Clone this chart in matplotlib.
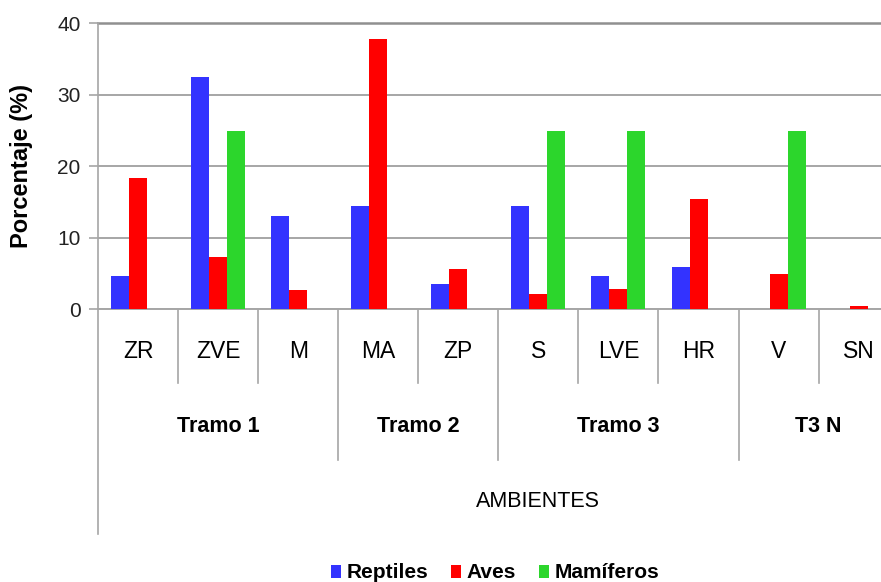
import matplotlib
matplotlib.use("Agg")
import matplotlib.pyplot as plt
import numpy as np
from matplotlib.patches import Patch

plt.rcParams['font.family'] = ['Liberation Sans', 'DejaVu Sans']

categories = ['ZR', 'ZVE', 'M', 'MA', 'ZP', 'S', 'LVE', 'HR', 'V', 'SN']
groups = ['Tramo 1', 'Tramo 2', 'Tramo 3', 'T3 N']
group_sizes = [3, 2, 3, 2]
series_names = ['Reptiles', 'Aves', 'Mamíferos']
reptiles = [4.7, 32.5, 13.1, 14.4, 3.5, 14.4, 4.7, 5.9, 0, 0]
aves = [18.4, 7.3, 2.7, 37.8, 5.7, 2.2, 2.9, 15.4, 4.9, 0.5]
mamiferos = [0, 25, 0, 0, 0, 25, 25, 0, 25, 0]
yticks = [0, 10, 20, 30, 40]

colors = ['#3333FF', '#FF0000', '#2CD62C']
grid_c = '#A6A6A6'

W, H = 881, 582
fig = plt.figure(figsize=(W / 100, H / 100), dpi=100)
left_px, right_px, top_px, zero_px = 98, 898.7, 23.3, 309.3
ax = fig.add_axes([left_px / W, (H - zero_px) / H,
                   (right_px - left_px) / W, (zero_px - top_px) / H])
ax_h = zero_px - top_px

x = np.arange(len(categories))
bw = 0.225
for i, (vals, name) in enumerate(zip([reptiles, aves, mamiferos], series_names)):
    ax.bar(x + (i - 1) * bw, vals, width=bw, color=colors[i], label=name,
           zorder=3, linewidth=0)

ax.set_xlim(-0.5, len(categories) - 0.5)
ax.set_ylim(0, 40)
ax.set_yticks(yticks)
ax.set_yticklabels([str(v) for v in yticks], fontsize=15, color='#222222')
ax.tick_params(axis='y', length=6.5, width=1.2, color=grid_c, pad=6)
ax.set_xticks([])
ax.set_axisbelow(True)
ax.yaxis.grid(True, color=grid_c, linewidth=1.4)
for s in ['top', 'right']:
    ax.spines[s].set_visible(False)
ax.spines['left'].set_color(grid_c)
ax.spines['left'].set_linewidth(1.2)
ax.spines['bottom'].set_color(grid_c)
ax.spines['bottom'].set_linewidth(1.4)
# top gridline slightly darker
ax.axhline(40, color='#909090', linewidth=1.8, zorder=1, clip_on=False)

ax.set_ylabel('Porcentaje (%)', fontsize=17, fontweight='bold', va='center')
ax.yaxis.set_label_coords((22 - left_px) / (right_px - left_px), 0.5)

trans = ax.get_xaxis_transform()
def fy(px):
    return -(px - zero_px) / ax_h

# category labels and short separators
for i, c in enumerate(categories):
    ax.text(i, fy(352), c, transform=trans, ha='center', va='center',
            fontsize=16.5, color='black')
bounds = np.cumsum([0] + group_sizes) - 0.5
for b in np.arange(0.5, len(categories) - 0.5, 1.0):
    if b not in bounds:
        ax.plot([b, b], [0, fy(383)], transform=trans, color=grid_c,
                linewidth=1.2, clip_on=False)
for b in bounds[1:-1]:
    ax.plot([b, b], [0, fy(460)], transform=trans, color=grid_c,
            linewidth=1.2, clip_on=False)
# extended left axis line
ax.plot([-0.5, -0.5], [0, fy(534)], transform=trans, color=grid_c,
        linewidth=1.2, clip_on=False)

for g, lo, hi in zip(groups, bounds[:-1], bounds[1:]):
    ax.text((lo + hi) / 2, fy(426.5), g, transform=trans, ha='center',
            va='center', fontsize=15.5, fontweight='bold')

ax.text((537.5 - left_px) / (right_px - left_px), fy(501.7), 'AMBIENTES',
        transform=ax.transAxes, ha='center', va='center', fontsize=15.5)

handles = [Patch(facecolor=colors[i], edgecolor='none', label=series_names[i])
           for i in range(3)]
leg = fig.legend(handles=handles, loc='center', ncol=3,
                 bbox_to_anchor=(495 / W, (H - 573) / H), frameon=False,
                 prop={'size': 15, 'weight': 'bold'}, handlelength=0.5,
                 handleheight=0.6, handletextpad=0.25, columnspacing=1.1,
                 borderaxespad=0, borderpad=0)

fig.savefig('out.png', dpi=100)
